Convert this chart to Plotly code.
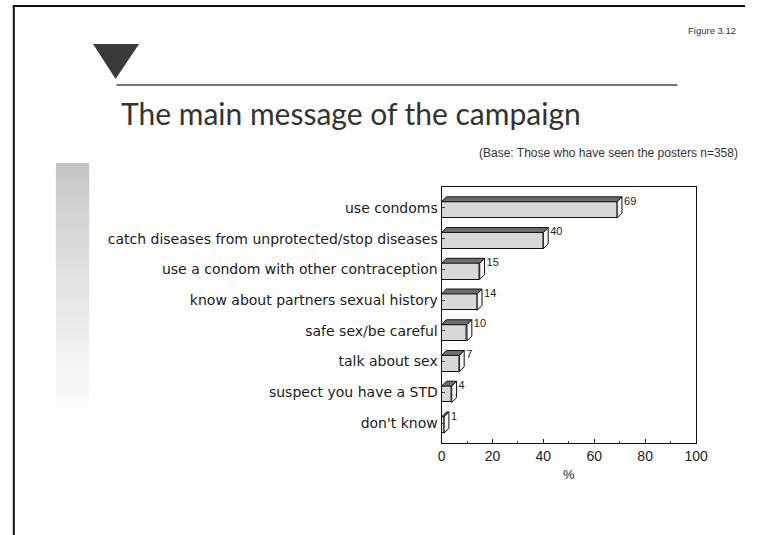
import plotly.graph_objects as go

# Survey answers: main message of the poster campaign (% of respondents)
categories = [
    "use condoms",
    "catch diseases from unprotected/stop diseases",
    "use a condom with other contraception",
    "know about partners sexual history",
    "safe sex/be careful",
    "talk about sex",
    "suspect you have a STD",
    "don't know",
]
percent = [69, 40, 15, 14, 10, 7, 4, 1]
x_ticks = [0, 20, 40, 60, 80, 100]

W, H = 757, 535

def px(x):
    return x / W

def py(y):
    return 1 - y / H

positions = list(range(len(categories)))

# 3D bar geometry (in data units)
front_off = -0.2      # top edge of the front face relative to the category centre
front_w = 0.53        # height of the front face
dx, dy = 1.9, 0.16    # depth offset of the extruded faces

fig = go.Figure()

# front faces
fig.add_trace(go.Bar(
    x=percent, y=positions, orientation="h",
    width=front_w, offset=front_off,
    marker=dict(color="#d8d8d8", line=dict(color="#111", width=1)),
    hoverinfo="skip", showlegend=False,
))

# top faces and right side faces, computed from each value
top_x, top_y, side_x, side_y = [], [], [], []
for c, v in zip(positions, percent):
    t = c + front_off
    b = c + front_off + front_w
    top_x += [0, dx, v + dx, v, 0, None]
    top_y += [t, t - dy, t - dy, t, t, None]
    side_x += [v, v + dx, v + dx, v, v, None]
    side_y += [t, t - dy, b - dy, b, t, None]

fig.add_trace(go.Scatter(
    x=top_x, y=top_y, mode="lines", fill="toself",
    fillcolor="#6e6e6e", line=dict(color="#111", width=1),
    hoverinfo="skip", showlegend=False,
))
fig.add_trace(go.Scatter(
    x=side_x, y=side_y, mode="lines", fill="toself",
    fillcolor="#f4f4f4", line=dict(color="#111", width=1),
    hoverinfo="skip", showlegend=False,
))

# value labels
fig.add_trace(go.Scatter(
    x=[v + dx + 0.8 for v in percent],
    y=[c - 0.2 for c in positions],
    mode="text", text=[str(v) for v in percent],
    textposition="middle right",
    textfont=dict(family="Liberation Sans, Arial, sans-serif", size=11, color="#222"),
    hoverinfo="skip", showlegend=False,
))

fig.update_xaxes(
    domain=[px(447), px(707)], range=[0, 100],
    tickvals=x_ticks, ticktext=[str(t) for t in x_ticks],
    ticks="inside", ticklen=4, tickcolor="#222",
    minor=dict(ticks="inside", ticklen=2, dtick=10, tickcolor="#444"),
    showline=True, linecolor="#111", linewidth=1, mirror=True,
    showgrid=False, zeroline=False,
    tickfont=dict(family="Liberation Sans, Arial, sans-serif", size=14, color="#222"),
)
fig.update_yaxes(
    domain=[py(443), py(187)], range=[7.65, -0.68],
    tickvals=positions, ticktext=categories,
    ticks="inside", ticklen=3, tickcolor="#444",
    showline=True, linecolor="#111", linewidth=1, mirror=True,
    showgrid=False, zeroline=False,
    tickfont=dict(family="DejaVu Sans, sans-serif", size=14, color="#1a1a1a"),
)

shapes = []
# page frame (top and left edges)
shapes.append(dict(type="line", xref="paper", yref="paper",
                   x0=px(9), x1=px(757), y0=py(6), y1=py(6),
                   line=dict(color="#111", width=2)))
shapes.append(dict(type="line", xref="paper", yref="paper",
                   x0=px(10), x1=px(10), y0=py(6), y1=py(535),
                   line=dict(color="#111", width=2)))
# heading marker and rule
shapes.append(dict(type="path", xref="paper", yref="paper",
                   path=f"M {px(91)},{py(44)} L {px(138)},{py(44)} L {px(114)},{py(79)} Z",
                   fillcolor="#3a3a3a", line=dict(width=0)))
shapes.append(dict(type="line", xref="paper", yref="paper",
                   x0=px(115), x1=px(688), y0=py(85), y1=py(85),
                   line=dict(color="#444", width=1.5)))
# grey fading strip on the left
n = 60
y_top, y_bot = 163, 495
for i in range(n):
    y0 = y_top + (y_bot - y_top) * i / n
    y1 = y_top + (y_bot - y_top) * (i + 1) / n
    f = min(1.0, (i / n) / 0.75) ** 0.8
    g = int(196 + (254 - 196) * f)
    shapes.append(dict(type="rect", xref="paper", yref="paper",
                       x0=px(53), x1=px(87), y0=py(y0), y1=py(y1 + 0.5),
                       fillcolor=f"rgb({g},{g},{g})", line=dict(width=0), layer="below"))

annotations = [
    dict(text="The main message of the campaign", xref="paper", yref="paper",
         x=px(117), y=py(113), xanchor="left", yanchor="middle", showarrow=False,
         font=dict(family="Lato, Open Sans, sans-serif", size=30, color="#333")),
    dict(text="Figure 3.12", xref="paper", yref="paper",
         x=px(750), y=py(30), xanchor="right", yanchor="middle", showarrow=False,
         font=dict(family="Liberation Sans, Arial, sans-serif", size=9.5, color="#333")),
    dict(text="(Base: Those who have seen the posters n=358)", xref="paper", yref="paper",
         x=px(752), y=py(153), xanchor="right", yanchor="middle", showarrow=False,
         font=dict(family="Liberation Sans, Arial, sans-serif", size=12, color="#333")),
    dict(text="%", xref="paper", yref="paper",
         x=px(577), y=py(474), xanchor="center", yanchor="middle", showarrow=False,
         font=dict(family="Liberation Sans, Arial, sans-serif", size=13, color="#222")),
]

fig.update_layout(
    width=W, height=H,
    margin=dict(l=0, r=0, t=0, b=0),
    paper_bgcolor="white", plot_bgcolor="white",
    bargap=0, shapes=shapes, annotations=annotations,
    showlegend=False,
)

fig.write_html("out.html")
